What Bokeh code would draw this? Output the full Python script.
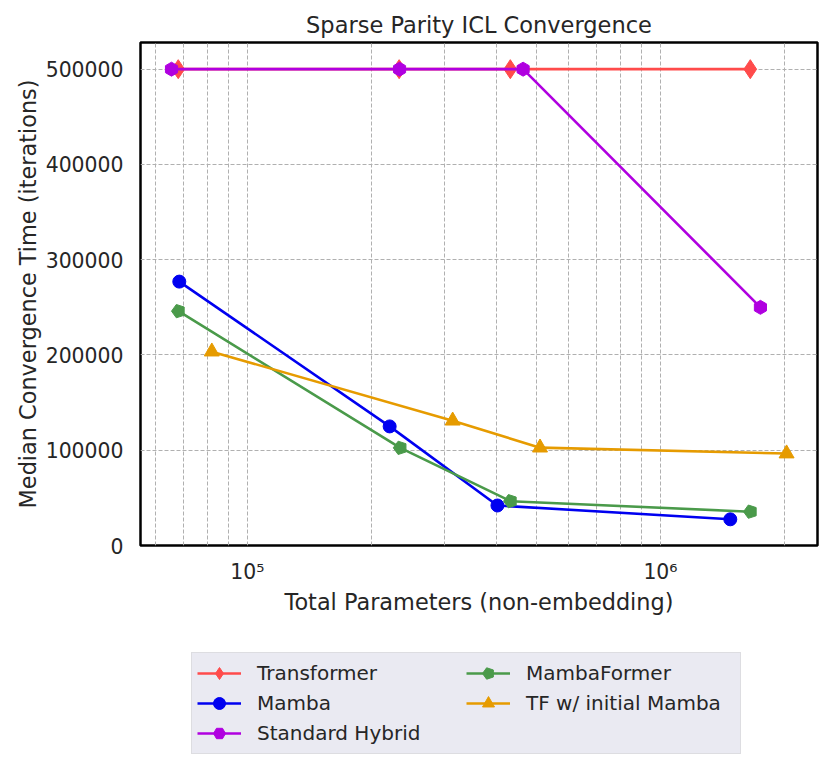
import math
from bokeh.plotting import figure
from bokeh.layouts import column
from bokeh.models import (Range1d, FixedTicker, CustomJSTickFormatter, BasicTickFormatter,
                          Legend, LegendItem, ColumnDataSource, Ngon)
from bokeh.embed import file_html
from bokeh.resources import INLINE

# ---- data ----
series_names = ["Transformer", "Mamba", "Standard Hybrid", "MambaFormer", "TF w/ initial Mamba"]

params_transformer = [68000, 233000, 433000, 1650000]
conv_transformer = [500000, 500000, 500000, 500000]

params_mamba = [68400, 221000, 403000, 1476000]
conv_mamba = [277000, 125000, 42000, 27500]

params_hybrid = [65500, 233500, 465000, 1746000]
conv_hybrid = [500000, 500000, 500000, 250000]

params_mambaformer = [68100, 234500, 433500, 1652000]
conv_mambaformer = [246000, 102500, 46500, 35500]

params_tf_mamba = [82000, 314000, 511000, 2020000]
conv_tf_mamba = [203500, 131000, 102700, 96500]

x_major_ticks = [1e5, 1e6]
x_minor_ticks = [6e4, 7e4, 8e4, 9e4, 2e5, 3e5, 4e5, 5e5, 6e5, 7e5, 8e5, 9e5, 2e6]
y_ticks = [0, 100000, 200000, 300000, 400000, 500000]

colors = ["#ff4b4b", "#0000f0", "#b000e0", "#4a9a4a", "#e69b00"]

TEXT = "#262626"
FONT = "DejaVu Sans"
LW = 2.6

p = figure(width=822, height=630, x_axis_type="log",
           x_range=Range1d(55100, 2.40e6), y_range=Range1d(0, 528000),
           output_backend="svg", toolbar_location=None,
           min_border_left=140, min_border_right=5, min_border_top=42, min_border_bottom=85,
           title="Sparse Parity ICL Convergence")

p.background_fill_color = "white"
p.border_fill_color = "white"
p.outline_line_color = "black"
p.outline_line_width = 2.5

p.title.align = "center"
p.title.text_font = FONT
p.title.text_font_size = "22.5px"
p.title.text_font_style = "normal"
p.title.text_color = TEXT
p.title.standoff = 10

# axes
p.xaxis.ticker = FixedTicker(ticks=x_major_ticks, minor_ticks=x_minor_ticks)
p.xaxis.formatter = CustomJSTickFormatter(code="""
const sup = {'0':'\u2070','1':'\u00b9','2':'\u00b2','3':'\u00b3','4':'\u2074','5':'\u2075','6':'\u2076','7':'\u2077','8':'\u2078','9':'\u2079','-':'\u207b'};
const e = Math.round(Math.log10(tick));
return '10' + String(e).split('').map(c => sup[c]).join('');
""")
p.yaxis.ticker = FixedTicker(ticks=y_ticks)
p.yaxis.formatter = BasicTickFormatter(use_scientific=False)

p.xaxis.axis_label = "Total Parameters (non-embedding)"
p.yaxis.axis_label = "Median Convergence Time (iterations)"

for ax in (p.xaxis[0], p.yaxis[0]):
    ax.axis_line_color = None
    ax.major_tick_line_color = None
    ax.minor_tick_line_color = None
    ax.major_tick_out = 0
    ax.major_tick_in = 0
    ax.minor_tick_out = 0
    ax.minor_tick_in = 0
    ax.major_label_text_font = FONT
    ax.major_label_text_font_size = "20.4px"
    ax.major_label_text_color = TEXT
    ax.axis_label_text_font = FONT
    ax.axis_label_text_font_size = "22.4px"
    ax.axis_label_text_font_style = "normal"
    ax.axis_label_text_color = TEXT

p.xaxis.major_label_standoff = 14
p.xaxis.axis_label_standoff = 2
p.yaxis.major_label_standoff = 17
p.yaxis.axis_label_standoff = 2

# grid
for g in (p.xgrid[0], p.ygrid[0]):
    g.grid_line_color = "#b0b0b0"
    g.grid_line_width = 1
    g.grid_line_dash = "4 2"
p.xgrid.minor_grid_line_color = "#b0b0b0"
p.xgrid.minor_grid_line_width = 1
p.xgrid.minor_grid_line_dash = "4 2"


def draw_series(fig, xs, ys, idx):
    c = colors[idx]
    ln = fig.line(xs, ys, line_color=c, line_width=LW)
    if idx == 0:
        mk = fig.scatter(xs, ys, marker="diamond", size=19, fill_color=c, line_color=c)
    elif idx == 1:
        mk = fig.scatter(xs, ys, marker="circle", size=13, fill_color=c, line_color=c)
    elif idx == 2:
        mk = fig.scatter(xs, ys, marker="hex", size=14, angle=math.pi / 2, fill_color=c, line_color=c)
    elif idx == 3:
        src = ColumnDataSource(dict(x=list(xs), y=list(ys)))
        mk = fig.add_glyph(src, Ngon(x="x", y="y", radius=7, radius_units="screen", n=5,
                                     angle=math.pi / 2, fill_color=c, line_color=c))
    else:
        mk = fig.scatter(xs, ys, marker="triangle", size=15, fill_color=c, line_color=c)
    return [ln, mk]


all_series = [
    (params_transformer, conv_transformer),
    (params_mamba, conv_mamba),
    (params_hybrid, conv_hybrid),
    (params_mambaformer, conv_mambaformer),
    (params_tf_mamba, conv_tf_mamba),
]

for i, (xs, ys) in enumerate(all_series):
    draw_series(p, xs, ys, i)

# ---- legend strip below the chart (same series, drawn out of this strip's view) ----
p2 = figure(width=822, height=130, x_range=Range1d(0, 1), y_range=Range1d(0, 1),
            output_backend="svg", toolbar_location=None,
            x_axis_location=None, y_axis_location=None, min_border=0)
p2.outline_line_color = None
p2.xgrid.visible = False
p2.ygrid.visible = False
p2.background_fill_color = "white"
p2.border_fill_color = "white"

items = []
for i, (name, (xs, ys)) in enumerate(zip(series_names, all_series)):
    rs = draw_series(p2, xs, ys, i)
    items.append(LegendItem(label=name, renderers=rs))

legend = Legend(items=items, location=(51, 6), ncols=2)
legend.label_text_font = FONT
legend.label_text_font_size = "20px"
legend.label_text_color = TEXT
legend.background_fill_color = "#eaeaf2"
legend.background_fill_alpha = 1
legend.border_line_color = "#d0d0d0"
legend.border_line_width = 1.2
legend.glyph_width = 44
legend.glyph_height = 30
legend.label_height = 20
legend.label_width = 209
legend.label_standoff = 16
legend.spacing = 0
legend.padding = 5
legend.margin = 0
p2.add_layout(legend, "center")

open("out.html", "w").write(file_html(column(p, p2, spacing=0), INLINE))
